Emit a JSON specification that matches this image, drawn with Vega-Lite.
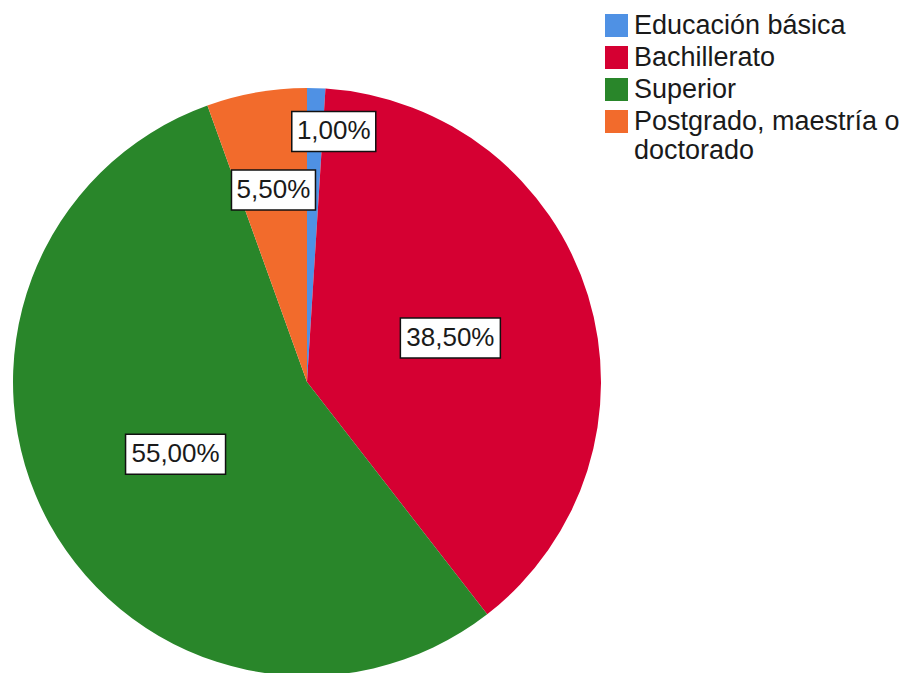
{
  "$schema": "https://vega.github.io/schema/vega-lite/v6.json",
  "width": 614,
  "height": 764,
  "padding": 0,
  "autosize": {"type": "pad"},
  "background": "white",
  "config": {"view": {"stroke": null}},
  "data": {
    "values": [
      {"orden": 1, "nivel": "Educación básica", "pct": 1.0},
      {"orden": 2, "nivel": "Bachillerato", "pct": 38.5},
      {"orden": 3, "nivel": "Superior", "pct": 55.0},
      {"orden": 4, "nivel": "Postgrado, maestría o doctorado", "pct": 5.5}
    ]
  },
  "transform": [
    {"window": [{"op": "sum", "field": "pct", "as": "acum"}], "sort": [{"field": "orden"}], "frame": [null, 0]},
    {"calculate": "(datum.acum - datum.pct / 2) / 100 * 2 * PI", "as": "medio"},
    {"calculate": "datum.pct < 2 ? 252 : datum.pct < 10 ? 195 : 150", "as": "rEtiqueta"},
    {"calculate": "datum.pct < 2 ? datum.medio + 0.075 : datum.medio", "as": "aEtiqueta"},
    {"calculate": "datum.rEtiqueta * sin(datum.aEtiqueta)", "as": "ex"},
    {"calculate": "datum.rEtiqueta * cos(datum.aEtiqueta)", "as": "ey"},
    {"calculate": "replace(format(datum.pct, '.2f'), '.', ',') + '%'", "as": "etiqueta"},
    {"calculate": "(length(datum.etiqueta) * 16 + 4) / 2", "as": "semiancho"},
    {"calculate": "datum.ex - datum.semiancho", "as": "cx1"},
    {"calculate": "datum.ex + datum.semiancho", "as": "cx2"},
    {"calculate": "datum.ey - 20", "as": "cy1"},
    {"calculate": "datum.ey + 20", "as": "cy2"}
  ],
  "layer": [
    {
      "mark": {"type": "arc", "outerRadius": 294},
      "encoding": {
        "theta": {"field": "pct", "type": "quantitative", "stack": true},
        "order": {"field": "orden", "type": "quantitative"},
        "color": {
          "field": "nivel",
          "type": "nominal",
          "scale": {
            "domain": ["Educación básica", "Bachillerato", "Superior", "Postgrado, maestría o doctorado"],
            "range": ["#4f91e4", "#d50032", "#29862a", "#f26b2c"]
          },
          "sort": null,
          "legend": {
            "title": null,
            "orient": "none",
            "legendX": 603,
            "legendY": 12,
            "padding": 0,
            "symbolType": "square",
            "symbolSize": 529,
            "symbolStrokeWidth": 0,
            "labelFont": "Liberation Sans",
            "labelFontSize": 27,
            "labelColor": "#1a1a1a",
            "labelOffset": 4,
            "labelLimit": 400,
            "rowPadding": 4,
            "labelExpr": "datum.label == 'Postgrado, maestría o doctorado' ? ['Postgrado, maestría o', 'doctorado'] : datum.label"
          }
        }
      }
    },
    {
      "mark": {"type": "rect", "fill": "white", "stroke": "#111111", "strokeWidth": 1.5},
      "encoding": {
        "x": {"field": "cx1", "type": "quantitative", "scale": {"domain": [-307, 307], "nice": false, "zero": false}, "axis": null},
        "x2": {"field": "cx2"},
        "y": {"field": "cy1", "type": "quantitative", "scale": {"domain": [-382, 382], "nice": false, "zero": false}, "axis": null},
        "y2": {"field": "cy2"}
      }
    },
    {
      "mark": {"type": "text", "align": "center", "baseline": "middle", "font": "Liberation Sans", "fontSize": 26, "color": "#1a1a1a"},
      "encoding": {
        "x": {"field": "ex", "type": "quantitative"},
        "y": {"field": "ey", "type": "quantitative"},
        "text": {"field": "etiqueta"}
      }
    }
  ]
}
